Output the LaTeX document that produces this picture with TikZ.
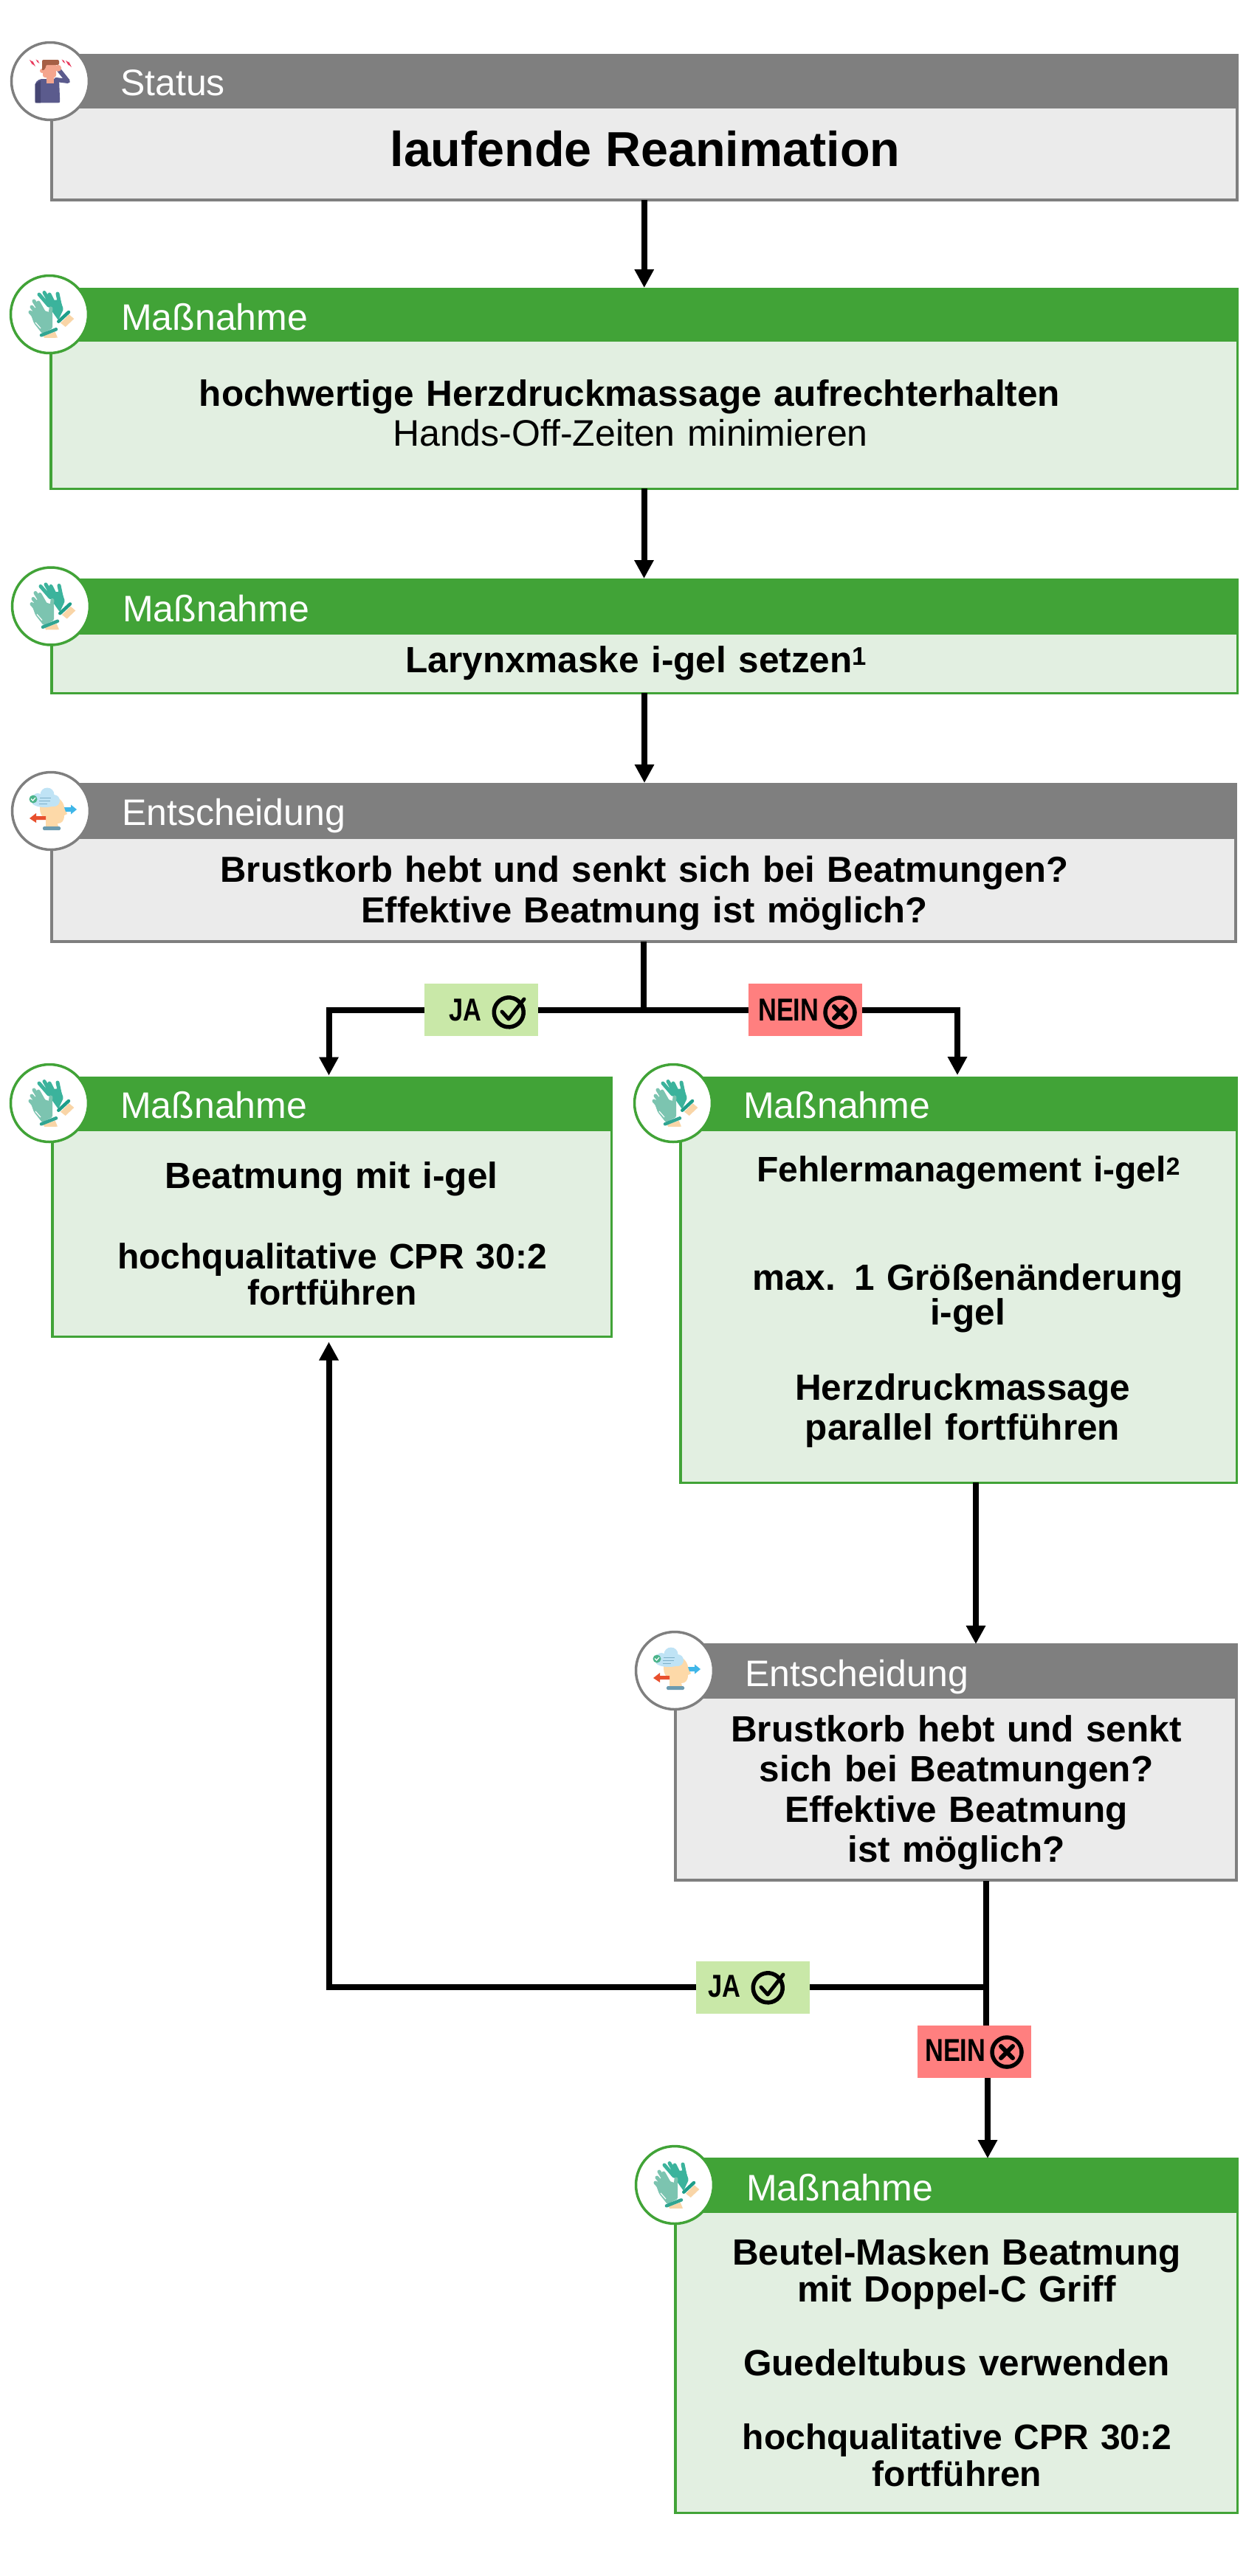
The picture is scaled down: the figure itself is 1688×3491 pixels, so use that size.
\documentclass[tikz,border=0pt]{standalone}
\usepackage{fontspec}
\setmainfont{Liberation Sans}
\newfontfamily\labfont{Liberation Sans}[FakeStretch=0.8]
\usetikzlibrary{arrows.meta,calc}
\definecolor{gruen}{RGB}{65,163,55}
\definecolor{hellgruen}{RGB}{226,239,225}
\definecolor{grau}{RGB}{127,127,127}
\definecolor{hellgrau}{RGB}{235,235,235}
\definecolor{jagruen}{RGB}{201,232,168}
\definecolor{neinrot}{RGB}{255,127,127}
\definecolor{glovedark}{RGB}{59,179,156}
\definecolor{glovelight}{RGB}{124,196,176}
\definecolor{glovecuff}{RGB}{30,158,138}
\definecolor{skinpale}{RGB}{249,213,167}
\tikzset{
  x=1pt,y=-1pt,
  bgruen/.style={draw=gruen,line width=3.5pt,fill=hellgruen},
  bgrau/.style={draw=grau,line width=4pt,fill=hellgrau},
  hgruen/.style={fill=gruen},
  hgrau/.style={fill=grau},
  igruen/.style={draw=gruen},
  igrau/.style={draw=grau},
  boxshape/.style={rectangle,anchor=north west,inner sep=0pt,outer sep=0pt},
  iconring/.style={circle,fill=white,line width=3.5pt,minimum size=105pt,inner sep=0pt,outer sep=0pt},
  title/.style={anchor=base west,inner sep=0pt,text=white,font=\fontsize{50}{54}\selectfont},
  bold/.style={anchor=base,inner sep=0pt,text width=800pt,align=center,font=\bfseries\fontsize{49.5}{#1}\selectfont},
  bold/.default=54pt,
  boldq/.style={anchor=base,inner sep=0pt,text width=800pt,align=center,font=\bfseries\fontsize{48}{#1}\selectfont},
  boldm/.style={anchor=base,inner sep=0pt,text width=1400pt,align=center,font=\bfseries\fontsize{49}{#1}\selectfont},
  plain/.style={anchor=base,inner sep=0pt,text width=800pt,align=center,font=\fontsize{50}{54}\selectfont},
  line/.style={line width=8pt,black},
  conn/.style={line width=8pt,black,-{Triangle[width=25pt,length=25pt]}},
  tag/.style={rectangle,inner sep=0pt,outer sep=0pt,minimum width=154pt,minimum height=71pt},
  tagtext/.style={anchor=base west,inner sep=0pt,font=\labfont\bfseries\fontsize{43}{46}\selectfont},
  okmark/.pic={
    \draw[line width=5.5pt] (16,-12.5) arc[start angle=-38,end angle=-398,radius=20];
    \draw[line width=5pt,line cap=round,line join=round] (-9,-1) -- (0,9) -- (21,-18);
  },
  nomark/.pic={
    \draw[line width=5.5pt] (0,0) circle[radius=20];
    \draw[line width=6pt,line cap=round] (-8,-8) -- (8,8) (-8,8) -- (8,-8);
  },
  personicon/.pic={
    \fill[rounded corners=2pt,fill={rgb,255:red,91;green,91;blue,141}] (-20.3,29.3) -- (-20.3,2) -- (-14,-3) -- (12,-3) -- (13.3,29.3) -- cycle;
    \fill[fill={rgb,255:red,70;green,70;blue,115}] (-20.3,29.3) -- (-20.3,4) -- (-13,-1) -- (-13,29.3) -- cycle;
    \draw[line width=6pt,line join=round,line cap=round,color={rgb,255:red,91;green,91;blue,141}] (8,-2) -- (24,0) -- (12,-15);
    \fill[color={rgb,255:red,244;green,165;blue,142}] (-5,-8) rectangle (5,3);
    \fill[rounded corners=3pt,color={rgb,255:red,244;green,165;blue,142}] (-10,-24) rectangle (8,-5);
    \fill[color={rgb,255:red,244;green,165;blue,142}] (-11,-14) circle[radius=3];
    \fill[color={rgb,255:red,166;green,95;blue,69},rounded corners=2pt] (-11,-29) -- (12,-29) -- (12,-22) -- (-6,-22) -- (-6,-17) -- (-11,-14) -- cycle;
    \fill[color={rgb,255:red,244;green,165;blue,142}] (10.7,-17.7) circle[radius=4.5];
    \foreach \px/\py/\s in {-24/-25/1,-17/-27/.6,18/-27/.6,25/-24/1}{
      \fill[color={rgb,255:red,232;green,55;blue,90}] (\px-4*\s,\py-4*\s) -- (\px+1*\s,\py-1*\s) -- (\px,\py-3*\s) -- (\px+4*\s,\py+5*\s) -- (\px-1*\s,\py+1*\s) -- (\px,\py+3*\s) -- cycle;
    }
  },
  gloveicon/.pic={
    % rear glove
    \fill[skinpale] (15,11.7) -- (26.7,0.3) -- (33.3,6) -- (21.7,17) -- cycle;
    \fill[glovedark,rounded corners=1.5pt] (-3,-13) -- (8,-20) -- (15,-18) -- (19,-7) -- (12,8) -- (0,-9) -- cycle;
    \draw[glovedark,line width=5pt,line cap=round] (-1,-12) -- (-14,-27) (2,-14) -- (-7,-29.5) (6,-15) -- (0,-27) (15,-9) -- (11,-28);
    \draw[glovecuff,line width=4.5pt,line cap=round] (12.3,9.7) -- (26,-3);
    % front glove
    \fill[skinpale] (-8.3,29.3) -- (7.7,23.7) -- (11,31.7) -- (-6.7,32) -- cycle;
    \draw[white,line width=2pt] (0,10) -- (2,-10);
    \fill[glovelight,rounded corners=1.5pt] (-26,-2) -- (-18,-10) -- (-4,-4) -- (4,-2) -- (4,19) -- (-10,26) -- (-21,12) -- cycle;
    \draw[glovelight,line width=5pt,line cap=round] (-16,8) -- (-26,-3) (-14,2) -- (-24,-10) (-10,0) -- (-21,-18) (-6,0) -- (-15,-16) (0,10) -- (2,-8);
    \draw[white,line width=1.2pt] (-19,11) -- (-12,19);
    \draw[glovecuff!80!glovelight,line width=4.5pt,line cap=round] (-11,28.3) -- (9,20.3);
  },
  headicon/.pic={
    \fill[color={rgb,255:red,253;green,217;blue,168}] (-15,-4) .. controls (-15,-22) and (0,-19) .. (3,-19) .. controls (14,-19) and (18,-8) .. (18,-5) -- (22,4) -- (18,6) .. controls (18,14) and (14,17) .. (9,17) -- (10,21) -- (-7,21) -- (-7,11) .. controls (-13,8) and (-15,3) .. (-15,-4) -- cycle;
    \fill[color={rgb,255:red,108;green,155;blue,176},rounded corners=1.5pt] (-11,21) rectangle (13,26);
    \fill[color={rgb,255:red,191;green,227;blue,245}] (-18,-17) circle[radius=7] (-5,-22) circle[radius=9.5] (4,-14) circle[radius=8] (-8,-12) ellipse[x radius=18,y radius=7];
    \draw[color={rgb,255:red,125;green,175;blue,200},line width=1pt] (-15,-18) -- (0,-18) (-16,-14) -- (-1,-14) (-16,-10) -- (-5,-10);
    \fill[color={rgb,255:red,76;green,180;blue,139}] (-24,-16) circle[radius=5.5];
    \draw[white,line width=1.2pt] (-27,-16.5) -- (-24.5,-14) -- (-21,-18);
    \fill[color={rgb,255:red,63;green,182;blue,232}] (18,-5) -- (27,-5) -- (27,-8.5) -- (35,-2) -- (27,4.5) -- (27,1) -- (20,1) -- cycle;
    \fill[color={rgb,255:red,232;green,80;blue,46}] (-7,7) -- (-20,7) -- (-20,3) -- (-29,10) -- (-20,16) -- (-20,12) -- (-7,12) -- cycle;
  },
}
\newcommand{\flowbox}[7]{% name, kind, x1, x2, top, headerbottom, bottom (outer edges)
  \pgfmathsetmacro{\hw}{(#2==1?3.5:4)/2}%
  \pgfmathsetmacro{\bw}{#4-#3-2*\hw}%
  \pgfmathsetmacro{\bh}{#7-#5-2*\hw}%
  \pgfmathsetmacro{\hh}{#6-#5}%
  \pgfmathsetmacro{\hwd}{#4-#3}%
  \ifnum#2=1\relax
    \node[boxshape,bgruen,minimum width=\bw pt,minimum height=\bh pt] (#1) at (#3+\hw,#5+\hw) {};
    \node[boxshape,hgruen,minimum width=\hwd pt,minimum height=\hh pt] (#1h) at (#3,#5) {};
  \else
    \node[boxshape,bgrau,minimum width=\bw pt,minimum height=\bh pt] (#1) at (#3+\hw,#5+\hw) {};
    \node[boxshape,hgrau,minimum width=\hwd pt,minimum height=\hh pt] (#1h) at (#3,#5) {};
  \fi
}
\begin{document}
\begin{tikzpicture}
\useasboundingbox (0,0) rectangle (1688,3491);

\begin{scope}[xshift=-1pt]
% boxes: name, kind (1 green, 2 grey), x1, x2, top, header bottom, bottom
\flowbox{b1}{2}{68.5}{1679}{73}{147}{273}
\flowbox{b2}{1}{68}{1679}{390}{463}{664}
\flowbox{b3}{1}{69}{1679}{784}{860}{941}
\flowbox{b4}{2}{69}{1677}{1061}{1137}{1278}
\flowbox{b5}{1}{70}{831}{1459}{1533}{1813}
\flowbox{b6}{1}{921}{1678}{1459}{1533}{2011}
\flowbox{b7}{2}{914}{1678}{2227}{2302}{2550}
\flowbox{b8}{1}{914}{1679}{2924}{2999}{3407}
\end{scope}

\begin{scope}[xshift=-2pt]
% titles
\node[title] (t1) at (165,129) {Status};
\node[title] (t2) at (166,447) {Maßnahme};
\node[title] (t3) at (168,842) {Maßnahme};
\node[title] (t4) at (167,1118) {Entscheidung};
\node[title] (t5) at (165,1515) {Maßnahme};
\node[title] (t6) at (1009,1515) {Maßnahme};
\node[title] (t7) at (1011,2285) {Entscheidung};
\node[title] (t8) at (1013,2982) {Maßnahme};
\end{scope}

% body text
\node[anchor=base,inner sep=0pt,font=\bfseries\fontsize{66.5}{70}\selectfont] (x1) at (874,225) {laufende Reanimation};
\node[bold,text width=1300pt] (x2) at (853,550) {hochwertige Herzdruckmassage aufrechterhalten};
\node[plain] (x2b) at (854,604.5) {Hands-Off-Zeiten minimieren};
\node[bold] (x3) at (862,911) {Larynxmaske i-gel setzen\textsuperscript{1}};
\node[boldm=55pt] (x4) at (873,1195) {Brustkorb hebt und senkt sich bei Beatmungen?\\Effektive Beatmung ist möglich?};
\node[bold] (x5a) at (449,1610) {Beatmung mit i-gel};
\node[boldq=49pt] (x5b) at (450,1719) {hochqualitative CPR 30:2\\fortführen};
\node[boldq=49pt] (x6a) at (1312,1601.5) {Fehlermanagement i-gel\textsuperscript{2}};
\node[bold=47pt] (x6b) at (1311,1748) {max. 1 Größenänderung\\i-gel};
\node[bold=54pt] (x6c) at (1304,1897) {Herzdruckmassage\\parallel fortführen};
\node[bold=54.5pt] (x7) at (1295.5,2360) {Brustkorb hebt und senkt\\sich bei Beatmungen?\\Effektive Beatmung\\ist möglich?};
\node[bold=49.5pt] (x8a) at (1296,3069.5) {Beutel-Masken Beatmung\\mit Doppel-C Griff};
\node[bold] (x8b) at (1296,3219.5) {Guedeltubus verwenden};
\node[boldq=50pt] (x8c) at (1296.5,3319.5) {hochqualitative CPR 30:2\\fortführen};

\begin{scope}[xshift=-2pt]
% connector points
\coordinate (s1) at (b4.south |- 0,1368.5);
\coordinate (in5) at (447.5,1457.5);
\coordinate (in6) at (1299,1457);
\coordinate (out6) at (1324,2009);
\coordinate (in7) at (1324,2228);
\coordinate (out7) at (1338,2549);
\coordinate (s2) at (1338,2693);
\coordinate (back5) at (447.5,1818.5);
\coordinate (in8) at (1340,2925);

% connectors
\draw[conn] (b1.south) -- (b1.south |- b2h.north);
\draw[conn] (b2.south) -- (b2.south |- b3h.north);
\draw[conn] (b3.south) -- (b3.south |- b4h.north);
\draw[line] (b4.south) -- (s1);
\draw[conn] (s1) -| (in5);
\draw[conn] (s1) -| (in6);
\draw[conn] (out6) -- (in7);
\draw[line] (out7) -- (out7 |- 0,2780);
\draw[conn] (s2) -| (back5);
\draw[conn] (in8 |- 0,2780) -- (in8);

% decision tags
\node[tag,fill=jagruen] (ja1) at (654,1368.5) {};
\node[tagtext] (ja1t) at (610,1383) {JA};
\pic at (691,1372) {okmark};
\node[tag,fill=neinrot] (ne1) at (1093,1368.5) {};
\node[tagtext] (ne1t) at (1029,1383) {NEIN};
\pic at (1140,1372) {nomark};
\node[tag,fill=jagruen] (ja2) at (1022,2693.5) {};
\node[tagtext] (ja2t) at (961,2706) {JA};
\pic at (1042,2694) {okmark};
\node[tag,fill=neinrot] (ne2) at (1322,2780) {};
\node[tagtext] (ne2t) at (1255,2793.5) {NEIN};
\pic at (1366,2781) {nomark};

% icons
\node[iconring,igrau] (i1) at (70,110) {};
\pic at (i1.center) {personicon};
\node[iconring,igruen] (i2) at (69,426) {};
\pic at (i2.center) {gloveicon};
\node[iconring,igruen] (i3) at (71,821.5) {};
\pic at (i3.center) {gloveicon};
\node[iconring,igrau] (i4) at (71,1099) {};
\pic at (i4.center) {headicon};
\node[iconring,igruen] (i5) at (69,1495) {};
\pic at (i5.center) {gloveicon};
\node[iconring,igruen] (i6) at (914,1495) {};
\pic at (i6.center) {gloveicon};
\node[iconring,igrau] (i7) at (916,2264) {};
\pic at (i7.center) {headicon};
\node[iconring,igruen] (i8) at (916,2961) {};
\pic at (i8.center) {gloveicon};
\end{scope}
\end{tikzpicture}
\end{document}
